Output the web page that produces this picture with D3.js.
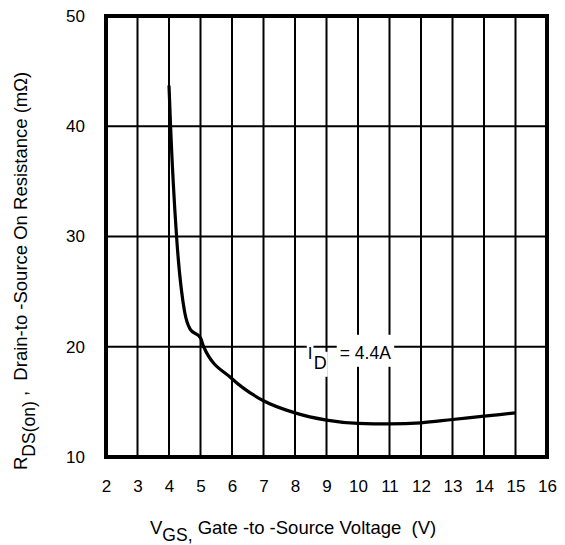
<!DOCTYPE html>
<html>
<head>
<meta charset="utf-8">
<script src="https://cdn.jsdelivr.net/npm/d3@7"></script>
<style>
    body { margin: 0; background: #fff; }
    svg { display: block; font-family: "Liberation Sans", Arial, sans-serif; }
    text { white-space: pre; }
</style>
</head>
<body>
<svg width="565" height="545"></svg>
<script>
// gate voltage (V) and on resistance (mOhm)
let vgs = [4.0, 4.05, 4.24, 4.5, 4.67, 5.0, 5.1, 6, 7, 8, 9, 10, 11, 12, 13, 14, 15];
let rds = [43.7, 40, 30, 23.1, 21.6, 20.8, 20.0, 17.1, 15.1, 14.0, 13.35, 13.05, 13.0, 13.1, 13.4, 13.7, 14.0];

let xTicks = [2, 3, 4, 5, 6, 7, 8, 9, 10, 11, 12, 13, 14, 15, 16];
let yTicks = [10, 20, 30, 40, 50];

let svg = d3.select("svg");
let margin = {top: 16, right: 18, bottom: 88, left: 106},
    width = svg.attr("width") - margin.left - margin.right,
    height = svg.attr("height") - margin.top - margin.bottom,
    g = svg.append("g").attr("transform", "translate(" + margin.left + "," + margin.top + ")");

let x = d3.scaleLinear().domain([2, 16]).range([0, width]),
    y = d3.scaleLinear().domain([10, 50]).range([height, 0]);

// grid
g.append("g")
    .selectAll("line")
    .data(xTicks.slice(1, -1))
    .enter().append("line")
    .attr("x1", d => x(d)).attr("x2", d => x(d))
    .attr("y1", 0).attr("y2", height)
    .attr("stroke", "#000").attr("stroke-width", 2);

g.append("g")
    .selectAll("line")
    .data(yTicks.slice(1, -1))
    .enter().append("line")
    .attr("x1", 0).attr("x2", width)
    .attr("y1", d => y(d)).attr("y2", d => y(d))
    .attr("stroke", "#000").attr("stroke-width", 2);

// tick labels
g.append("g")
    .attr("transform", "translate(0," + height + ")")
    .call(d3.axisBottom(x).tickValues(xTicks).tickSize(0).tickPadding(23).tickFormat(d3.format("d")))
    .call(a => a.select(".domain").remove())
    .selectAll("text")
    .attr("font-size", 17)
    .attr("font-family", "Liberation Sans, Arial, sans-serif")
    .attr("fill", "#000");

g.append("g")
    .call(d3.axisLeft(y).tickValues(yTicks).tickSize(0).tickPadding(21).tickFormat(d3.format("d")))
    .call(a => a.select(".domain").remove())
    .selectAll("text")
    .attr("font-size", 17)
    .attr("font-family", "Liberation Sans, Arial, sans-serif")
    .attr("fill", "#000");

// annotation, white boxes break the grid lines
let ann = g.append("g");
let annX = x(8.5) - 3, annY = y(19) + 1;
let tI = ann.append("text").attr("x", annX).attr("y", annY).attr("font-size", 17).text("I");
let tD = ann.append("text").attr("x", annX + 6).attr("y", annY + 10).attr("font-size", 18).text("D");
let tEq = ann.append("text").attr("x", annX + 32).attr("y", annY).attr("font-size", 17.5).text("= 4.4A");
[[tI, 1, 8], [tD, 1, 1], [tEq, 3, 8]].forEach(function (p) {
    let b = p[0].node().getBBox();
    ann.insert("rect", "text")
        .attr("x", b.x - p[1]).attr("y", b.y - p[2])
        .attr("width", b.width + 2 * p[1]).attr("height", b.height + p[2] + 4)
        .attr("fill", "#fff");
});

// curve
let pts = vgs.map((v, i) => [v, rds[i]]);
g.append("path")
    .datum(pts)
    .attr("fill", "none")
    .attr("stroke", "#000")
    .attr("stroke-width", 3.2)
    .attr("d", d3.line().curve(d3.curveMonotoneX).x(d => x(d[0])).y(d => y(d[1])));

// frame
g.append("rect")
    .attr("width", width).attr("height", height)
    .attr("fill", "none").attr("stroke", "#000").attr("stroke-width", 4);

// axis titles
let xt = svg.append("text")
    .attr("x", 150).attr("y", 534)
    .attr("font-size", 18.5);
xt.append("tspan").text("V");
xt.append("tspan").attr("font-size", 17.5).attr("dy", 7).text("GS,");
xt.append("tspan").attr("dy", -7).text(" Gate -to -Source Voltage  (V)");

let yt = svg.append("text")
    .attr("transform", "translate(27,470) rotate(-90)")
    .attr("font-size", 18.5);
yt.append("tspan").text("R");
yt.append("tspan").attr("font-size", 17.5).attr("dy", 8).text("DS(on)");
yt.append("tspan").attr("dy", -8).text(" ,  Drain-to -Source On Resistance (m\u03A9)");
</script>
</body>
</html>
